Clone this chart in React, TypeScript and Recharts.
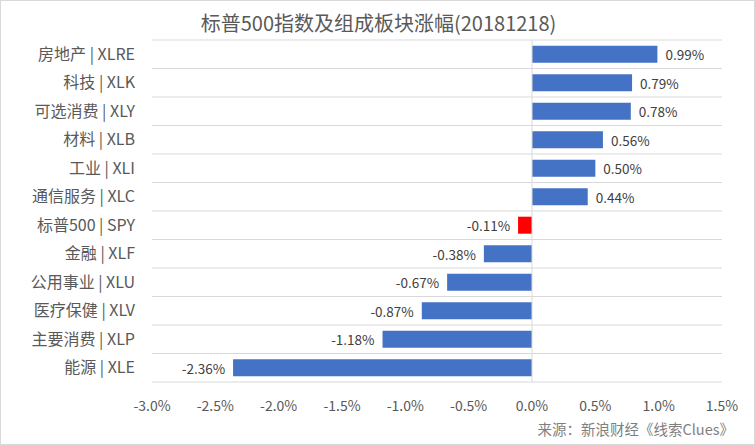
import { Bar, BarChart, CartesianGrid, Cell, LabelList, ReferenceLine, XAxis, YAxis } from "recharts";

const sectors = [
  "房地产 | XLRE",
  "科技 | XLK",
  "可选消费 | XLY",
  "材料 | XLB",
  "工业 | XLI",
  "通信服务 | XLC",
  "标普500 | SPY",
  "金融 | XLF",
  "公用事业 | XLU",
  "医疗保健 | XLV",
  "主要消费 | XLP",
  "能源 | XLE",
];
const changes = [0.99, 0.79, 0.78, 0.56, 0.5, 0.44, -0.11, -0.38, -0.67, -0.87, -1.18, -2.36];
const xTicks = [-3, -2.5, -2, -1.5, -1, -0.5, 0, 0.5, 1, 1.5];

const data = sectors.map((name, i) => ({ name, value: changes[i] }));

const FONT = "'Noto Sans CJK SC', 'Noto Sans', sans-serif";

function ValueLabel(props: any) {
  const { x, y, width, height, value } = props;
  const left = Math.min(x, x + width);
  const right = Math.max(x, x + width);
  const pos = value >= 0;
  return (
    <text
      x={pos ? right + 8 : left - 8}
      y={y + height / 2}
      textAnchor={pos ? "start" : "end"}
      dominantBaseline="central"
      fill="#404040"
      fontSize={13.5}
      fontFamily={FONT}
    >
      {value.toFixed(2)}%
    </text>
  );
}

export default function App() {
  return (
    <div
      style={{
        position: "absolute",
        left: 0,
        top: 0,
        width: 755,
        height: 445,
        boxSizing: "border-box",
        border: "1px solid #D9D9D9",
        background: "#fff",
        fontFamily: FONT,
      }}
    >
      <div
        style={{
          position: "absolute",
          top: 7,
          left: 0,
          width: 755,
          textAlign: "center",
          fontSize: 20,
          color: "#595959",
        }}
      >
        标普500指数及组成板块涨幅(20181218)
      </div>
      <div style={{ position: "absolute", left: -1, top: -1 }}>
        <BarChart
          width={755}
          height={445}
          data={data}
          layout="vertical"
          barCategoryGap="20%"
          margin={{ top: 40, right: 33, left: 0, bottom: 33 }}
        >
          <CartesianGrid
            vertical={false}
            stroke="#D9D9D9"
            horizontalCoordinatesGenerator={({ offset }: any) =>
              sectors.map((_, i) => offset.top + (i * offset.height) / sectors.length).concat(offset.top + offset.height)
            }
          />
          <XAxis
            type="number"
            domain={[-3, 1.5]}
            ticks={xTicks}
            tickFormatter={(v: number) => `${v.toFixed(1)}%`}
            axisLine={false}
            tickLine={false}
            tickSize={0}
            tickMargin={19}
            height={30}
            tick={{ fill: "#595959", fontSize: 14, fontFamily: FONT }}
          />
          <YAxis
            type="category"
            dataKey="name"
            width={152}
            axisLine={false}
            tickLine={false}
            tickSize={0}
            tickMargin={17}
            interval={0}
            tick={{ fill: "#595959", fontSize: 16, fontFamily: FONT }}
          />
          <ReferenceLine x={0} stroke="#D9D9D9" />
          <Bar dataKey="value" isAnimationActive={false}>
            {data.map((d) => (
              <Cell key={d.name} fill={d.name.includes("SPY") ? "#FF0000" : "#4472C4"} />
            ))}
            <LabelList dataKey="value" content={ValueLabel} />
          </Bar>
        </BarChart>
      </div>
      <div
        style={{
          position: "absolute",
          right: 20,
          top: 417,
          fontSize: 14.5,
          color: "#7F7F7F",
        }}
      >
        来源：新浪财经《线索Clues》
      </div>
    </div>
  );
}
